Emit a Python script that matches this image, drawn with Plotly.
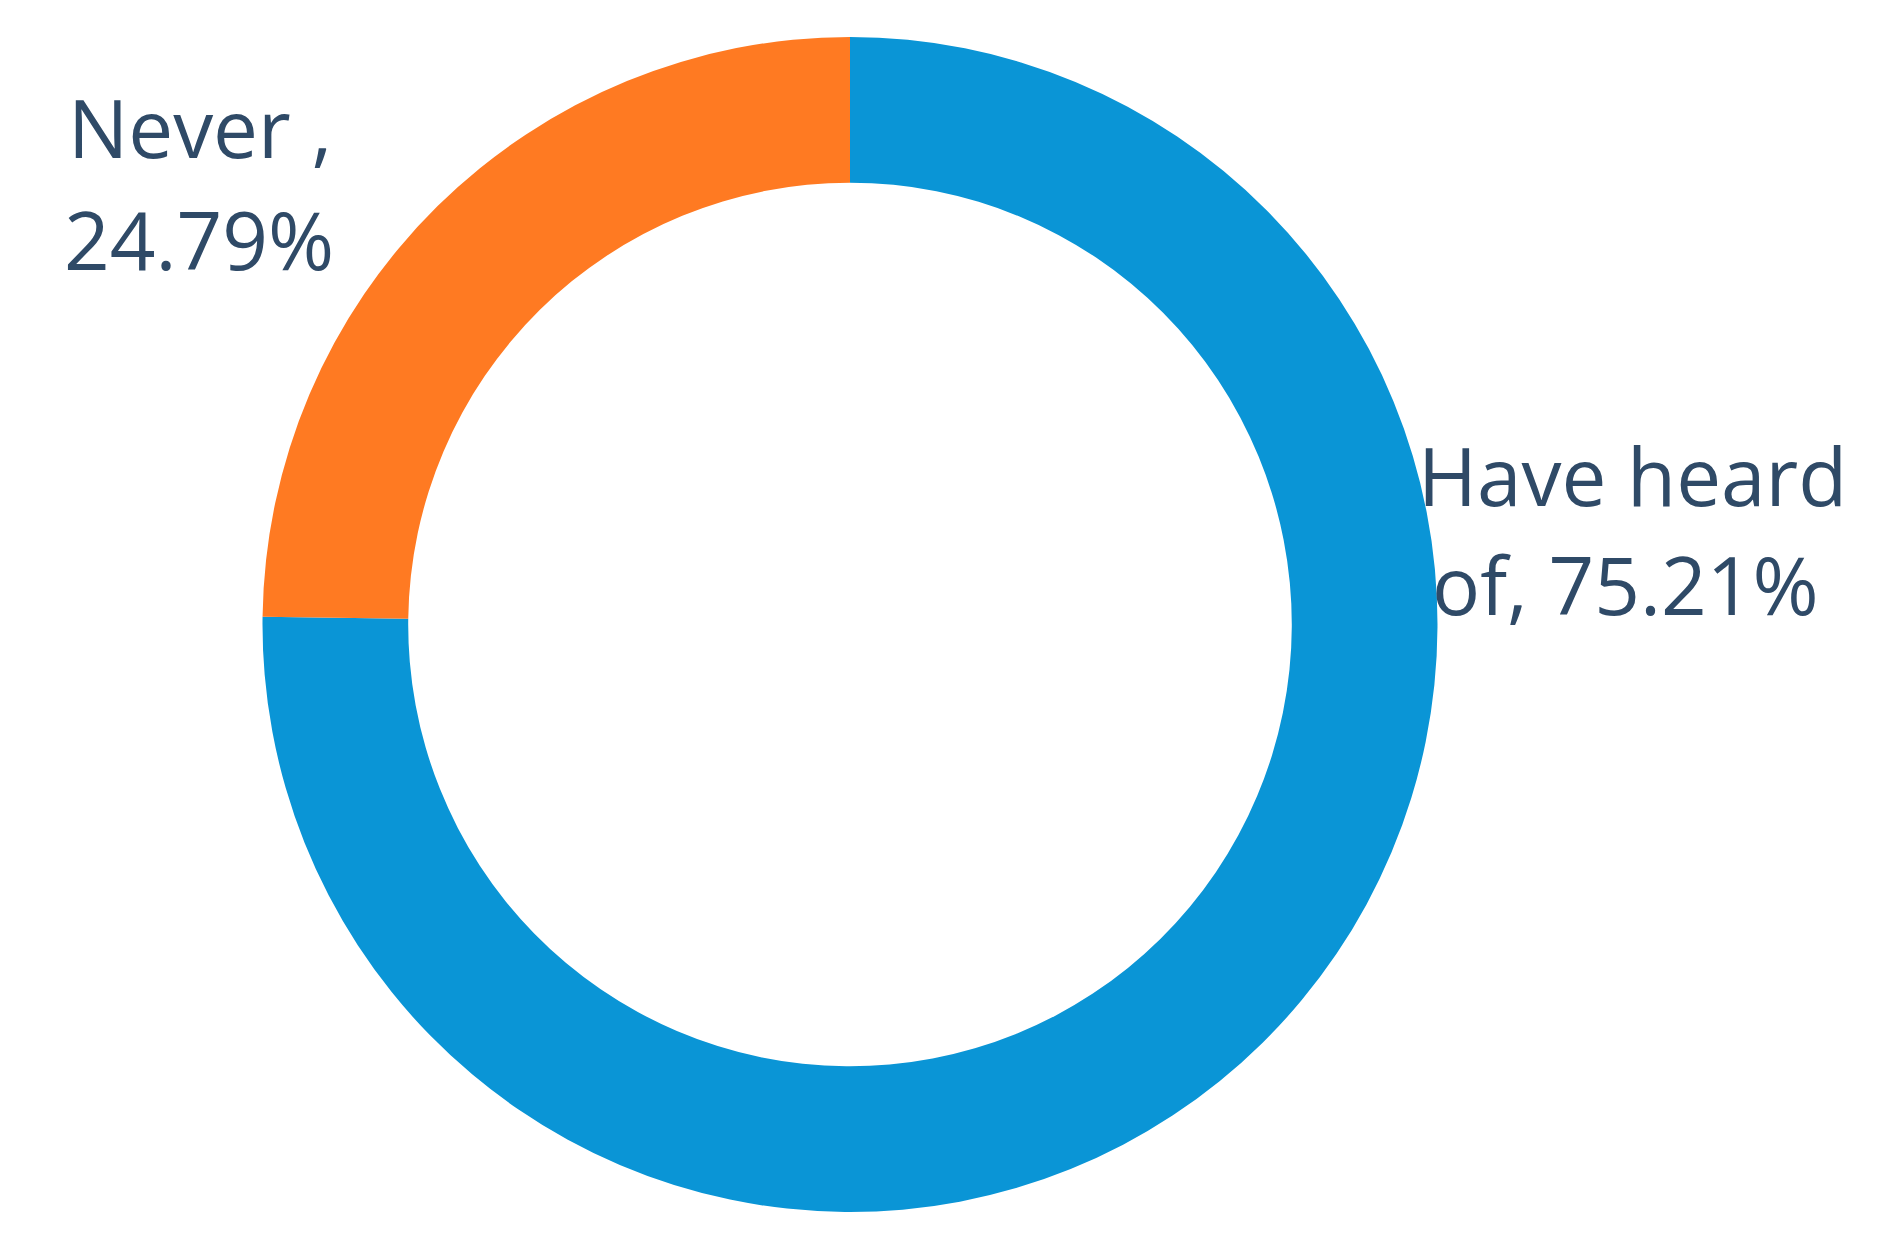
import plotly.graph_objects as go

# Awareness survey - donut chart
labels = ["Have heard of", "Never"]
values = [75.21, 24.79]
colors = ["#0A95D6", "#FF7A22"]
# label text, one entry per printed line
label_lines = [
    ["Have heard", "of, 75.21%"],
    ["Never ,", "24.79%"],
]

W, H = 1877, 1239
TEXT_COLOR = "#2F4A67"

fig = go.Figure()
fig.add_trace(go.Pie(
    labels=labels,
    values=values,
    hole=0.752,
    sort=False,
    direction="clockwise",
    rotation=0,
    marker=dict(colors=colors, line=dict(width=0)),
    textinfo="none",
    hoverinfo="label+percent",
    showlegend=False,
    domain=dict(x=[254 / W, 1430 / W], y=[1 - 1204 / H, 1 - 29 / H]),
))

# outside labels (left edge, line middle in px)
label_pos = [
    [(1408, 467), (1422, 575)],
    [(58, 118), (54, 231)],
]
for lines, pos in zip(label_lines, label_pos):
    for txt, (px_x, px_y) in zip(lines, pos):
        fig.add_annotation(text=txt, x=px_x / W, y=1 - px_y / H,
                           xref="paper", yref="paper", xanchor="left",
                           yanchor="middle", align="left", showarrow=False)

fig.update_annotations(font=dict(family="Open Sans", size=80, color=TEXT_COLOR))
fig.update_layout(
    width=W, height=H,
    margin=dict(l=0, r=0, t=0, b=0),
    paper_bgcolor="white",
    plot_bgcolor="white",
)

fig.write_html("out.html")
